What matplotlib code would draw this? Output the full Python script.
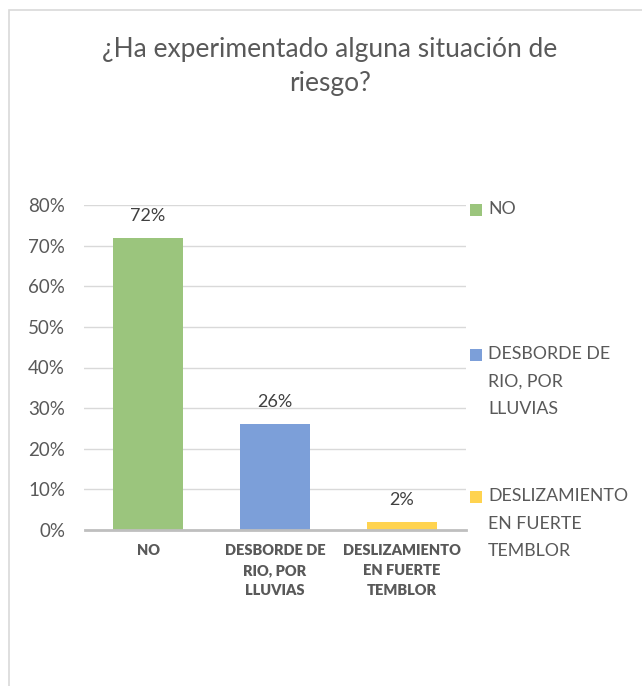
import matplotlib
matplotlib.use("Agg")
import matplotlib.pyplot as plt
from matplotlib.patches import Rectangle

plt.rcParams['font.family'] = ['Lato', 'DejaVu Sans']

title = "¿Ha experimentado alguna situación de\nriesgo?"
categories = ["NO", "DESBORDE DE\nRIO, POR\nLLUVIAS", "DESLIZAMIENTO\nEN FUERTE\nTEMBLOR"]
values = [0.72, 0.26, 0.02]
value_labels = ["72%", "26%", "2%"]
colors = ["#9BC57D", "#7C9FD9", "#FFD34F"]
yticks = [0, 0.1, 0.2, 0.3, 0.4, 0.5, 0.6, 0.7, 0.8]
ytick_labels = ["0%", "10%", "20%", "30%", "40%", "50%", "60%", "70%", "80%"]

W, H = 642, 686
fig = plt.figure(figsize=(W / 100, H / 100), dpi=100)
fig.patch.set_facecolor("white")

# chart border
fig.patches.append(Rectangle((9 / W, -0.05), 1.0, (H - 10) / H + 0.05, transform=fig.transFigure,
                             fill=False, edgecolor="#D9D9D9", linewidth=1.2))

ax = fig.add_axes([84.5 / W, 156 / H, 381 / W, 325 / H])
x = list(range(len(categories)))
bars = ax.bar(x, values, width=0.55, color=colors, zorder=3)
ax.set_xlim(-0.5, 2.5)
ax.set_ylim(0, 0.8)
ax.set_yticks(yticks)
ax.set_yticklabels(ytick_labels, fontsize=13.5, color="#595959")
ax.set_xticks(x)
ax.set_xticklabels(categories, fontsize=10.5, fontweight="heavy", color="#595959", linespacing=1.65)
ax.tick_params(axis="y", length=0, pad=14)
ax.tick_params(axis="x", length=0, pad=10)
ax.grid(axis="y", color="#D9D9D9", linewidth=1, zorder=0)
for s in ["top", "right", "left"]:
    ax.spines[s].set_visible(False)
ax.spines["bottom"].set_color("#BFBFBF")
ax.spines["bottom"].set_linewidth(2)
ax.spines["bottom"].set_zorder(4)

for xi, v, lab in zip(x, values, value_labels):
    ax.annotate(lab, (xi, v), xytext=(0, 10), textcoords="offset points",
                ha="center", va="bottom", fontsize=13, color="#404040")

fig.text(330 / W, 1 - 66 / H, title, ha="center", va="center", fontsize=19,
         color="#595959", linespacing=1.45)

# legend
leg_tops = [210, 355, 497]
for c, lab, yt in zip(colors, categories, leg_tops):
    fig.patches.append(Rectangle((470 / W, 1 - (yt + 6) / H), 12 / W, 12 / H,
                                 transform=fig.transFigure, facecolor=c, edgecolor="none"))
    fig.text(488 / W, 1 - (yt - 9) / H, lab, ha="left", va="top",
             fontsize=12.8, color="#595959", linespacing=1.9)

fig.savefig("out.png", dpi=100)
